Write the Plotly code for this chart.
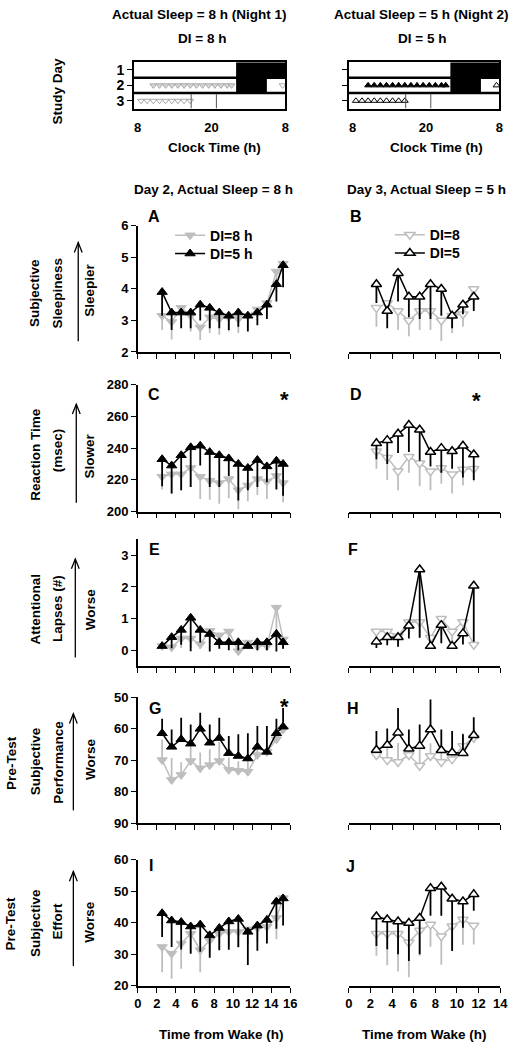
import plotly.graph_objects as go

W, H = 519, 1050
def PX(x): return x / W
def PY(y): return 1 - y / H
def sfx(k): return "" if k == 1 else str(k)

FONT = "Liberation Sans, Arial, sans-serif"
BLACK = "#000000"
GRAY = "#BEBEBE"

# ---------------- data ----------------
x_day2 = [2.55, 3.55, 4.55, 5.55, 6.55, 7.55, 8.55, 9.55, 10.55, 11.55, 12.55, 13.55, 14.55, 15.25]
x_day3 = [2.55, 3.55, 4.55, 5.55, 6.55, 7.55, 8.55, 9.55, 10.55, 11.55]

# A / B: subjective sleepiness
A_di8 = [3.15, 2.95, 3.4, 3.15, 2.78, 3.1, 3.05, 3.1, 3.05, 3.15, 3.35, 3.55, 4.55, 4.8]
A_di8_err = [0.45, 0.55, 0.6, 0.5, 0.4, 0.5, 0.5, 0.45, 0.45, 0.45, 0.35, 0.4, 0.5, 0.5]
A_di5 = [3.9, 3.25, 3.25, 3.25, 3.5, 3.4, 3.25, 3.15, 3.25, 3.15, 3.25, 3.5, 4.15, 4.75]
A_di5_err = [0.75, 0.55, 0.5, 0.5, 0.5, 0.65, 0.5, 0.45, 0.45, 0.5, 0.4, 0.45, 0.55, 0.7]
B_di8 = [3.4, 3.55, 3.3, 3.0, 3.3, 3.3, 3.0, 3.15, 3.2, 4.0]
B_di8_err = [0.6, 0.5, 0.6, 0.5, 0.6, 0.6, 0.65, 0.55, 0.4, 0.5]
B_di5 = [4.15, 3.3, 4.5, 3.75, 3.75, 4.15, 4.0, 3.15, 3.5, 3.75]
B_di5_err = [0.6, 0.55, 0.9, 0.65, 0.7, 1.1, 0.85, 0.4, 0.3, 0.45]

# C / D: reaction time
C_di8 = [222, 223.5, 223.5, 227.5, 222, 219.5, 218, 220.5, 213.5, 216.5, 220.5, 219, 222.5, 218]
C_di8_err = [8, 12, 10, 12, 14, 12, 13, 12, 12, 10, 10, 11, 8, 12]
C_di5 = [233, 229, 235.5, 240.5, 241.5, 237.5, 235.5, 233.5, 230, 227.5, 232.5, 228.5, 232, 230]
C_di5_err = [17, 17.5, 22, 25, 12.5, 22, 20, 11, 23, 14, 17, 10, 18, 20]
D_di8 = [238, 234, 225.5, 234.5, 230.5, 225.5, 227.5, 223.5, 226.5, 227]
D_di8_err = [11, 14, 12, 10, 14.5, 12, 10, 12, 10, 8]
D_di5 = [243, 245, 249, 254.5, 251.5, 237.5, 240, 238, 241.5, 236]
D_di5_err = [10, 15, 12, 17, 19.5, 9, 15.5, 11, 20, 16]

# E / F: attentional lapses
E_di8 = [0.14, 0.1, 0.38, 0.38, 0.2, 0.62, 0.48, 0.6, -0.02, 0.25, 0.14, 0.14, 1.35, 0.35]
E_di8_err = [0.1, 0.1, 0.3, 0.3, 0.15, 0.4, 0.3, 0.4, 0.0, 0.2, 0.1, 0.1, 1.1, 0.3]
E_di5 = [0.14, 0.42, 0.65, 1.03, 0.65, 0.52, 0.26, 0.26, 0.26, 0.14, 0.26, 0.26, 0.52, 0.26]
E_di5_err = [0.0, 0.35, 0.47, 1.05, 0.4, 0.55, 0.2, 0.25, 0.25, 0.0, 0.25, 0.25, 0.55, 0.2]
F_di8 = [0.6, 0.6, 0.45, 0.9, 0.9, 0.4, 1.0, 0.6, 0.9, 0.18]
F_di8_err = [0.25, 0.25, 0.2, 0.4, 0.5, 0.25, 0.5, 0.3, 0.5, 0.1]
F_di5 = [0.28, 0.42, 0.42, 0.78, 2.55, 0.14, 0.8, 0.14, 0.54, 2.04]
F_di5_err = [0.2, 0.25, 0.3, 0.4, 2.15, 0.05, 0.57, 0.05, 0.35, 1.76]

# G / H: pre-test subjective performance (reversed axis)
G_di8 = [70.0, 76.3, 74.7, 70.3, 72.6, 71.6, 70.3, 73.1, 73.4, 73.7, 68.4, 67.4, 63.4, 60.3]
G_di8_err = [6.5, 7, 4, 5, 5, 5, 6, 4, 3, 4, 2, 2, 2, 1.5]
G_di5 = [61.5, 65.8, 63.4, 64.8, 60.1, 64.5, 63.0, 67.8, 68.7, 69.5, 65.8, 67.4, 61.5, 59.4]
G_di5_err = [4.6, 5.5, 6.8, 6.1, 5.1, 5.8, 6.4, 5.4, 6.9, 8.0, 6.6, 8.2, 4.6, 5.9]
H_di8 = [68.4, 70.0, 70.6, 68.4, 71.8, 68.7, 70.6, 69.7, 65.5, 62.9]
H_di8_err = [3, 5, 6, 3, 9, 4, 5, 4, 4, 3]
H_di5 = [66.8, 65.2, 61.3, 66.4, 65.5, 60.3, 66.9, 67.6, 67.8, 62.1]
H_di5_err = [6, 5.2, 7.8, 6.1, 6.8, 9.5, 6.6, 6.8, 6, 5.7]

# I / J: pre-test subjective effort
I_di8 = [32.3, 30.2, 33.4, 36.5, 31.3, 34.4, 36.5, 37.1, 37.1, 37.9, 38.3, 38.7, 41.5, 47.8]
I_di8_err = [8, 8, 8, 6, 7, 5, 5, 5, 5, 5, 4, 4, 6.7, 4]
I_di5 = [43.0, 40.7, 40.2, 38.8, 39.4, 36.0, 38.3, 40.4, 41.2, 37.1, 39.1, 40.9, 46.7, 47.7]
I_di5_err = [7.5, 8.4, 8.7, 8.6, 8.6, 7.1, 7, 9, 8.9, 10.5, 8, 7.5, 8.6, 8.6]
J_di8 = [36.5, 36.5, 36.5, 33.7, 37.5, 39.4, 35.7, 38.9, 41.0, 39.1]
J_di8_err = [7, 10, 12, 11, 8, 7, 9, 7, 8, 6]
J_di5 = [42.0, 41.0, 40.4, 39.9, 41.5, 50.9, 51.4, 47.6, 46.7, 49.0]
J_di5_err = [9.4, 9.4, 10.4, 12, 11.5, 8.7, 9.2, 16.6, 8.3, 5.2]

# raster (study day x clock time)
study_days = [1, 2, 3]
sleep_rows = [1, 2]
sleep_start = [24, 24]
sleep_end = [32, 29]
wake_day2 = 8     # clock hour of wake on day 2
wake_day3 = 29    # clock hour of wake on day 3 (05:00 next day)
row3_marks = [16.7, 20.8]
clock_ticks = [8, 20, 32]
clock_labels = ["8", "20", "8"]

# ---------------- layout geometry ----------------
LX = [PX(137), PX(293)]
RX = [PX(353), PX(508)]
rows_px = {"A": (222, 350), "C": (383, 512), "E": (540, 669), "G": (700, 828), "I": (865, 993)}
def ydom(t, b): return [PY(b), PY(t)]

fig = go.Figure()

def err(arr, color, th):
    return dict(type="data", symmetric=False, array=[0] * len(arr), arrayminus=arr,
                color=color, thickness=th, width=0, visible=True)

def add_panel(k, xs, g, ge, b, be, right, legends=None, names=None):
    xa, ya = f"x{sfx(k)}", f"y{sfx(k)}"
    if right:
        gm = dict(symbol="triangle-down", size=9, color="white", line=dict(color=GRAY, width=1.5))
        bm = dict(symbol="triangle-up", size=9, color="white", line=dict(color=BLACK, width=1.5))
    else:
        gm = dict(symbol="triangle-down", size=9, color=GRAY, line=dict(color=GRAY, width=1))
        bm = dict(symbol="triangle-up", size=9, color=BLACK, line=dict(color=BLACK, width=1))
    show = legends is not None
    fig.add_trace(go.Scatter(x=xs, y=g, mode="lines+markers", xaxis=xa, yaxis=ya,
                             line=dict(color=GRAY, width=1.5), marker=gm,
                             error_y=err(ge, GRAY, 1.8), showlegend=show,
                             name=names[0] if names else "DI=8",
                             legend=legends[0] if show else "legend"))
    fig.add_trace(go.Scatter(x=xs, y=b, mode="lines+markers", xaxis=xa, yaxis=ya,
                             line=dict(color=BLACK, width=1.5), marker=bm,
                             error_y=err(be, BLACK, 1.8), showlegend=show,
                             name=names[1] if names else "DI=5",
                             legend=legends[1] if show else "legend"))

add_panel(3, x_day2, A_di8, A_di8_err, A_di5, A_di5_err, False, ["legend", "legend2"], ["DI=8 h", "DI=5 h"])
add_panel(4, x_day3, B_di8, B_di8_err, B_di5, B_di5_err, True, ["legend3", "legend4"], ["DI=8", "DI=5"])
add_panel(5, x_day2, C_di8, C_di8_err, C_di5, C_di5_err, False)
add_panel(6, x_day3, D_di8, D_di8_err, D_di5, D_di5_err, True)
add_panel(7, x_day2, E_di8, E_di8_err, E_di5, E_di5_err, False)
add_panel(8, x_day3, F_di8, F_di8_err, F_di5, F_di5_err, True)
add_panel(9, x_day2, G_di8, G_di8_err, G_di5, G_di5_err, False)
add_panel(10, x_day3, H_di8, H_di8_err, H_di5, H_di5_err, True)
add_panel(11, x_day2, I_di8, I_di8_err, I_di5, I_di5_err, False)
add_panel(12, x_day3, J_di8, J_di8_err, J_di5, J_di5_err, True)

# raster markers
day2_clock = [wake_day2 + v for v in x_day2]
day3_clock = [wake_day3 + v for v in x_day3]
d3_row2 = [c for c in day3_clock if c < 32]
d3_row3 = [c - 24 for c in day3_clock if c >= 32]
# left raster (DI=8 protocol, grey)
fig.add_trace(go.Scatter(x=day2_clock, y=[2] * len(day2_clock), mode="markers", xaxis="x", yaxis="y",
                         marker=dict(symbol="triangle-down", size=6, color="#D8D8D8", line=dict(color="#A8A8A8", width=1)),
                         showlegend=False))
fig.add_trace(go.Scatter(x=d3_row2 + d3_row3, y=[2] * len(d3_row2) + [3] * len(d3_row3), mode="markers",
                         xaxis="x", yaxis="y",
                         marker=dict(symbol="triangle-down", size=6, color="white", line=dict(color="#A8A8A8", width=1)),
                         showlegend=False))
# right raster (DI=5 protocol, black)
fig.add_trace(go.Scatter(x=day2_clock, y=[2] * len(day2_clock), mode="markers", xaxis="x2", yaxis="y2",
                         marker=dict(symbol="triangle-up", size=6, color=BLACK, line=dict(color=BLACK, width=1)),
                         showlegend=False))
fig.add_trace(go.Scatter(x=d3_row2 + d3_row3, y=[2] * len(d3_row2) + [3] * len(d3_row3), mode="markers",
                         xaxis="x2", yaxis="y2",
                         marker=dict(symbol="triangle-up", size=6, color="white", line=dict(color=BLACK, width=1)),
                         showlegend=False))

shapes = []
for k in (1, 2):
    xr, yr = f"x{sfx(k)}", f"y{sfx(k)}"
    for r, s, e in zip(sleep_rows, sleep_start, sleep_end):
        shapes.append(dict(type="rect", xref=xr, yref=yr, x0=s, x1=e, y0=r - 0.5, y1=r + 0.5,
                           fillcolor=BLACK, line=dict(width=0)))
    for sep in (1.5, 2.5):
        shapes.append(dict(type="line", xref=f"{xr} domain", yref=yr, x0=0, x1=1, y0=sep, y1=sep,
                           line=dict(color=BLACK, width=2.5)))
    for m in row3_marks:
        shapes.append(dict(type="line", xref=xr, yref=yr, x0=m, x1=m, y0=2.55, y1=3.5,
                           line=dict(color="#555555", width=1)))

# arrows next to y titles
def arrow(x, ytop, ybot):
    shapes.append(dict(type="line", xref="paper", yref="paper", x0=PX(x), x1=PX(x), y0=PY(ybot), y1=PY(ytop),
                       line=dict(color=BLACK, width=1.3)))
    shapes.append(dict(type="path", xref="paper", yref="paper",
                       path=f"M{PX(x-4)},{PY(ytop+10)} L{PX(x)},{PY(ytop)} L{PX(x+4)},{PY(ytop+10)}",
                       line=dict(color=BLACK, width=1.3)))
arrow(76, 239, 339)
arrow(74, 403, 503)
arrow(73, 560, 660)
arrow(71, 717, 815)
arrow(71, 877, 973)

TF = dict(family=FONT, size=13, color=BLACK, weight="bold")
LF = dict(family=FONT, size=14, color=BLACK, weight="bold")

def leg(x, y):
    return dict(x=PX(x), y=PY(y), xanchor="left", yanchor="middle", bgcolor="rgba(0,0,0,0)",
                font=LF, borderwidth=0)

layout = dict(
    width=W, height=H, margin=dict(l=0, r=0, t=0, b=0),
    paper_bgcolor="white", plot_bgcolor="white",
    font=dict(family=FONT, size=13, color=BLACK, weight="bold"),
    shapes=shapes,
    legend=leg(170, 232), legend2=leg(170, 250.5),
    legend3=leg(395, 231.5), legend4=leg(395, 250),
)

# raster axes
for k, dom, lab in ((1, [PX(133), PX(288)], True), (2, [PX(353), PX(507)], False)):
    layout[f"xaxis{sfx(k)}"] = dict(domain=dom, anchor=f"y{sfx(k)}", range=[7.4, 32], tickvals=clock_ticks,
                               ticktext=clock_labels, ticks="outside", ticklen=6, tickcolor="rgba(0,0,0,0)",
                               showline=True, linecolor=BLACK, linewidth=1.5, mirror=True,
                               showgrid=False, zeroline=False, tickfont=TF)
    layout[f"yaxis{sfx(k)}"] = dict(domain=ydom(56, 103), anchor=f"x{sfx(k)}", range=[3.5, 0.5], tickvals=study_days,
                               showticklabels=lab, ticks="outside", ticklen=5, tickwidth=1.3, tickcolor=BLACK,
                               showline=True, linecolor=BLACK, linewidth=1.5, mirror=True,
                               showgrid=False, zeroline=False, tickfont=dict(family=FONT, size=14, color=BLACK, weight="bold"))

yconf = {
    "A": dict(range=[2, 6], tickvals=[2, 3, 4, 5, 6]),
    "C": dict(range=[200, 280], tickvals=[200, 220, 240, 260, 280]),
    "E": dict(range=[-0.5, 3.5], tickvals=[0, 1, 2, 3]),
    "G": dict(range=[90, 50], tickvals=[50, 60, 70, 80, 90]),
    "I": dict(range=[20, 60], tickvals=[20, 30, 40, 50, 60]),
}
for i, key in enumerate(["A", "C", "E", "G", "I"]):
    kl, kr = 3 + 2 * i, 4 + 2 * i
    t, b = rows_px[key]
    bottom = key == "I"
    layout[f"xaxis{kl}"] = dict(domain=LX, anchor=f"y{kl}", range=[0, 16], tickvals=list(range(0, 17, 2)),
                                showticklabels=bottom, ticks="outside", ticklen=5, tickwidth=1.3, tickcolor=BLACK,
                                showline=True, linecolor=BLACK, linewidth=1.5, showgrid=False, zeroline=False,
                                tickfont=TF)
    layout[f"yaxis{kl}"] = dict(domain=ydom(t, b), anchor=f"x{kl}", **yconf[key], ticks="outside", ticklen=5,
                                tickwidth=1.3, tickcolor=BLACK, showline=True, linecolor=BLACK, linewidth=1.5,
                                showgrid=False, zeroline=False, tickfont=TF)
    layout[f"xaxis{kr}"] = dict(domain=RX, anchor=f"y{kr}", range=[0, 14], tickvals=list(range(0, 15, 2)),
                                showticklabels=bottom, ticks="outside", ticklen=5, tickwidth=1.3, tickcolor=BLACK,
                                showline=True, linecolor=BLACK, linewidth=1.5, showgrid=False, zeroline=False,
                                tickfont=TF)
    layout[f"yaxis{kr}"] = dict(domain=ydom(t, b), anchor=f"x{kr}", **yconf[key], showticklabels=False,
                                ticks="", showline=False, showgrid=False, zeroline=False)

fig.update_layout(**layout)

def txt(s, x, y, size=13.5, angle=0, xanchor="center"):
    fig.add_annotation(text=s, x=PX(x), y=PY(y), xref="paper", yref="paper", showarrow=False,
                       xanchor=xanchor, yanchor="middle", textangle=angle,
                       font=dict(family=FONT, size=size, color=BLACK, weight="bold"))

txt("Actual Sleep = 8 h (Night 1)", 200, 8)
txt("Actual Sleep = 5 h (Night 2)", 427, 8)
txt("DI = 8 h", 203, 32)
txt("DI = 5 h", 428, 32)
txt("Study Day", 55, 85, angle=-90)
txt("Clock Time (h)", 215, 143)
txt("Clock Time (h)", 443, 143)
txt("Day 2, Actual Sleep = 8 h", 214, 185)
txt("Day 3, Actual Sleep = 5 h", 433, 185)

# y-axis titles
txt("Subjective", 32, 290, angle=-90)
txt("Sleepiness", 55, 290, angle=-90)
txt("Sleepier", 88, 287, angle=-90)
txt("Reaction Time", 32, 454, angle=-90)
txt("(msec)", 55, 450, angle=-90)
txt("Slower", 88, 455, angle=-90)
txt("Attentional", 32, 611, angle=-90)
txt("Lapses (#)", 55, 610, angle=-90)
txt("Worse", 88, 611, angle=-90)
txt("Pre-Test", 7, 767, angle=-90)
txt("Subjective", 32, 765, angle=-90)
txt("Performance", 55, 766, angle=-90)
txt("Worse", 88, 763, angle=-90)
txt("Pre-Test", 7, 930, angle=-90)
txt("Subjective", 32, 929, angle=-90)
txt("Effort", 55, 928, angle=-90)
txt("Worse", 88, 928, angle=-90)

# panel letters
for s, x, y in (("A", 154, 213), ("B", 360, 213), ("C", 154, 393), ("D", 360, 393),
                ("E", 154, 550), ("F", 357, 550), ("G", 155, 712), ("H", 357, 712),
                ("I", 150, 871), ("J", 355, 872)):
    txt(s, x, y, size=16)
for x, y in ((287, 398), (484, 399), (287, 710)):
    txt("*", x, y, size=22)

txt("Time from Wake (h)", 223, 1042)
txt("Time from Wake (h)", 430, 1042)

fig.write_html("out.html", config={"displayModeBar": False},
               post_script="document.body.style.margin='0';document.body.style.overflow='hidden';")
